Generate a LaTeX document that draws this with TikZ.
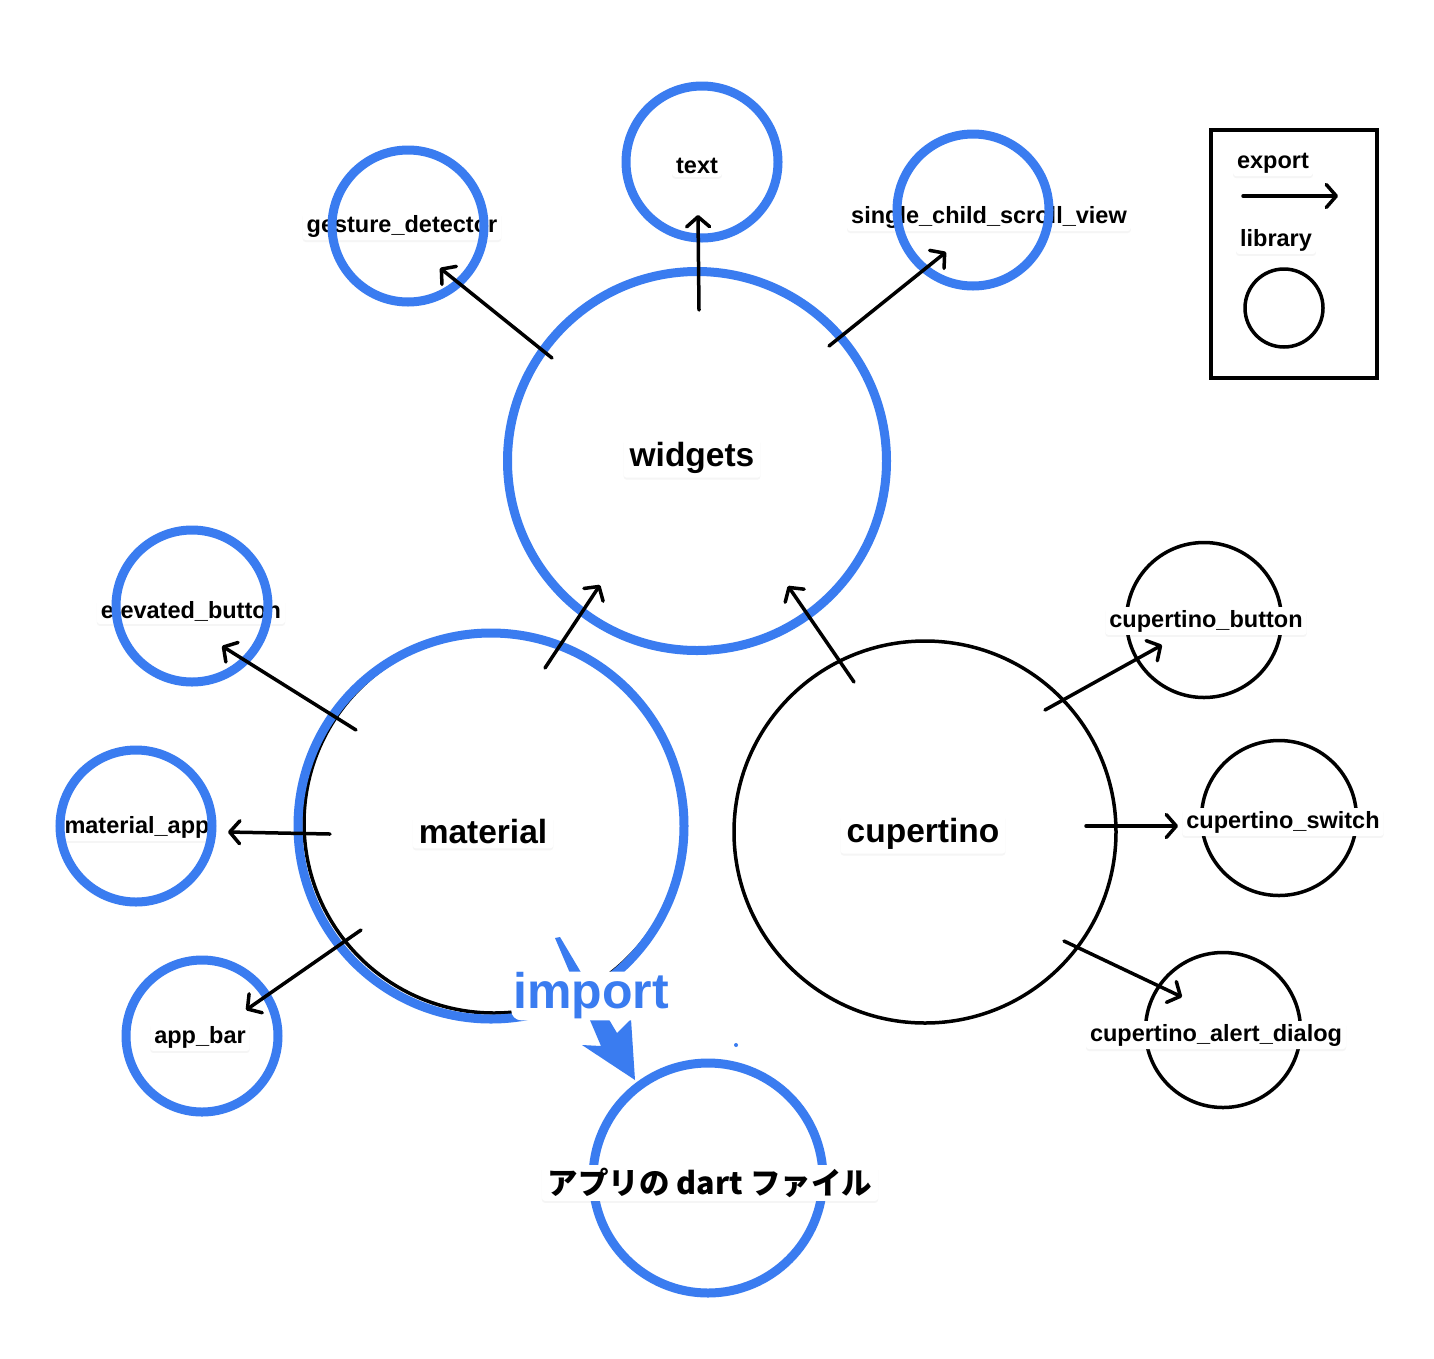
\documentclass[tikz,border=0pt]{standalone}
\usepackage{fontspec}
\setmainfont{Liberation Sans}
\newfontfamily\cjk{Noto Sans CJK JP}
\usetikzlibrary{arrows.meta,shadows}
\definecolor{blueC}{RGB}{58,124,240}
\tikzset{
  lbl/.style={fill=white, rounded corners=3pt, inner xsep=4pt, inner ysep=3pt,
    font=\bfseries\fontsize{23.5}{28}\selectfont,
    drop shadow={opacity=0.08, shadow xshift=0pt, shadow yshift=-2pt}},
  biglbl/.style={lbl, font=\bfseries\fontsize{33.5}{40}\selectfont, inner xsep=6pt, inner ysep=4pt},
  bring/.style={circle, draw=blueC, line width=9pt, fill=none, inner sep=0pt},
  kring/.style={circle, draw=black, line width=3.5pt, fill=none, inner sep=0pt},
  exp/.style={line width=3.5pt, line cap=round, -{Straight Barb[length=10pt,width=23pt,round]}},
}
\begin{document}
\begin{tikzpicture}[x=1pt,y=-1pt]
\fill[white] (0,0) rectangle (1434,1358);
\useasboundingbox (0,0) rectangle (1434,1358);

% ---- black circles (labels on top)
\node[kring, minimum size=380pt] (material-k) at (494,823) {};
\node[kring, minimum size=382pt] (cupertino) at (925,832) {};
\node[kring, minimum size=155pt] (cbutton) at (1204,620) {};
\node[kring, minimum size=155pt] (cswitch) at (1279,818) {};
\node[kring, minimum size=155pt] (calert) at (1223,1030) {};

\node[lbl] (cbutton-l) at (1206,621) {cupertino\_button};
\node[lbl] (cswitch-l) at (1283,822) {cupertino\_switch};
\node[lbl] (calert-l) at (1216,1035) {cupertino\_alert\_dialog};
\node[biglbl] (cupertino-l) at (923,834) {cupertino};

% ---- labels under blue small rings
\node[lbl] (gesture-l) at (402,226) {gesture\_detector};
\node[lbl] (scv-l) at (989,217) {single\_child\_scroll\_view};
\node[lbl] (text-l) at (697,166) {text};
\node[lbl] (elev-l) at (191,611) {elevated\_button};
\node[lbl] (mapp-l) at (137,827) {material\_app};
\node[lbl] (appbar-l) at (200,1037) {app\_bar};

% ---- blue rings
\node[bring, minimum size=379pt] (widgets) at (697,461) {};
\node[bring, minimum size=386pt] (material) at (491,826) {};
\node[bring, minimum size=152pt] (text) at (702,162) {};
\node[bring, minimum size=152pt] (gesture) at (408,226) {};
\node[bring, minimum size=152pt] (scv) at (973,210) {};
\node[bring, minimum size=152pt] (elev) at (192,606) {};
\node[bring, minimum size=152pt] (mapp) at (136,826) {};
\node[bring, minimum size=152pt] (appbar) at (202,1036) {};
\node[bring, minimum size=230pt] (dart) at (708,1178) {};

\node[biglbl] (widgets-l) at (692,458) {widgets};
\node[biglbl] (material-l) at (483,832) {material};
\node[lbl, font=\cjk\bfseries\fontsize{30.5}{36}\selectfont, inner xsep=6pt] (dart-l) at (710,1183) {アプリの dart ファイル};

% ---- export arrows
\coordinate (a1s) at (552,358); \coordinate (a1e) at (440,268);
\coordinate (a2s) at (699,310); \coordinate (a2e) at (698,215);
\coordinate (a3s) at (829,346); \coordinate (a3e) at (946,252);
\coordinate (a4s) at (545,668); \coordinate (a4e) at (600,585);
\coordinate (a5s) at (854,682); \coordinate (a5e) at (788,586);
\coordinate (a6s) at (356,730); \coordinate (a6e) at (222,646);
\coordinate (a7s) at (330,834); \coordinate (a7e) at (228,832);
\coordinate (a8s) at (361,930); \coordinate (a8e) at (246,1010);
\coordinate (a9s) at (1045,710); \coordinate (a9e) at (1162,645);
\coordinate (a10s) at (1086,826); \coordinate (a10e) at (1178,826);
\coordinate (a11s) at (1064,941); \coordinate (a11e) at (1182,997);
\foreach \i in {1,...,11} { \draw[exp] (a\i s) -- (a\i e); }

% ---- import arrow
\fill[blueC] (555,938) -- (601,1046) -- (582,1045) -- (635,1080) -- (631,1019) -- (617,1033) -- (560,937) -- cycle;
\node[text=blueC, fill=white, rounded corners=10pt, inner xsep=2pt, inner ysep=1pt, font=\bfseries\fontsize{50}{58}\selectfont] (import) at (591,996) {import};
\fill[blueC] (736,1045) circle (2pt);

% ---- legend
\node[draw, line width=3.5pt, minimum width=166pt, minimum height=248pt, inner sep=0pt] (legend) at (1294,254) {};
\node[lbl] (export-l) at (1273,163) {export};
\coordinate (lgs) at (1243,196); \coordinate (lge) at (1338,196);
\draw[exp] (lgs) -- (lge);
\node[lbl] (library-l) at (1276,240) {library};
\node[kring, minimum size=78pt] (libc) at (1284,308) {};
\end{tikzpicture}
\end{document}
